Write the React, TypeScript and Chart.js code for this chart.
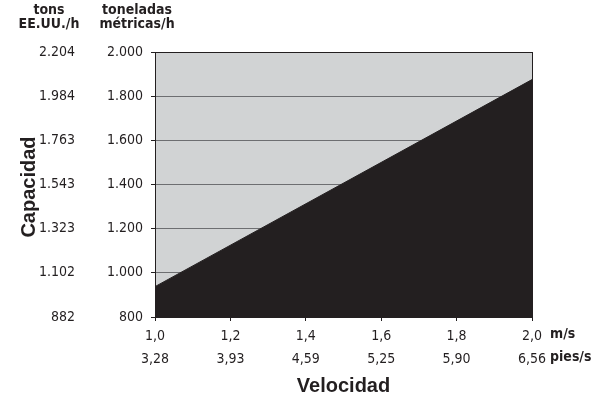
import React, { useEffect, useRef } from "react";
import { Chart, registerables } from "chart.js";

Chart.register(...registerables);

// Data
const speedMs = [1.0, 1.2, 1.4, 1.6, 1.8, 2.0];
const speedLabelsMs = ["1,0", "1,2", "1,4", "1,6", "1,8", "2,0"];
const speedLabelsFts = ["3,28", "3,93", "4,59", "5,25", "5,90", "6,56"];
const capMetricTicks = [800, 1000, 1200, 1400, 1600, 1800, 2000];
const capMetricLabels = ["800", "1.000", "1.200", "1.400", "1.600", "1.800", "2.000"];
const capUsLabels = ["882", "1.102", "1.323", "1.543", "1.763", "1.984", "2.204"];
const lineSpeed = [1.0, 2.0];
const lineCapacity = [937.5, 1875];

const DARK = "#231f20";
const GRAY = "#d1d3d4";
const GRID = "#6d6e71";
const NARROW = "'Liberation Sans Narrow', 'DejaVu Sans Condensed', 'Liberation Sans', sans-serif";
const WIDE = "'Liberation Sans', Arial, sans-serif";

const decorPlugin = {
  id: "decor",
  beforeDraw(chart: any) {
    const { ctx, chartArea } = chart;
    ctx.save();
    ctx.fillStyle = GRAY;
    ctx.fillRect(chartArea.left, chartArea.top, chartArea.right - chartArea.left, chartArea.bottom - chartArea.top);
    ctx.restore();
  },
  afterDraw(chart: any) {
    const { ctx, chartArea } = chart;
    const xs = chart.scales.x;
    ctx.save();
    ctx.fillStyle = DARK;
    ctx.textBaseline = "middle";
    // column headers
    ctx.font = `bold 14px ${NARROW}`;
    ctx.textAlign = "center";
    ctx.fillText("tons", 49, 10);
    ctx.fillText("EE.UU./h", 49, 24);
    ctx.fillText("toneladas", 137, 10);
    ctx.fillText("métricas/h", 137, 24);
    // units on x axis
    ctx.textAlign = "left";
    const xr = xs.getPixelForValue(speedMs[speedMs.length - 1]);
    ctx.fillText("m/s", xr + 18, 334);
    ctx.fillText("pies/s", xr + 18, 357);
    // axis titles
    ctx.font = `bold 20px ${WIDE}`;
    ctx.textAlign = "center";
    ctx.fillText("Velocidad", (chartArea.left + chartArea.right) / 2, 386);
    ctx.translate(29, 187);
    ctx.rotate(-Math.PI / 2);
    ctx.fillText("Capacidad", 0, 0);
    ctx.restore();
  },
};

export default function App() {
  const ref = useRef<HTMLCanvasElement | null>(null);
  useEffect(() => {
    document.body.style.margin = "0";
    const canvas = ref.current;
    if (!canvas) return;
    const chart = new Chart(canvas, {
      type: "line",
      data: {
        datasets: [
          {
            data: lineSpeed.map((x, i) => ({ x, y: lineCapacity[i] })),
            fill: "start",
            backgroundColor: DARK,
            borderColor: DARK,
            borderWidth: 1,
            pointRadius: 0,
          },
        ],
      },
      options: {
        responsive: false,
        animation: false,
        events: [],
        layout: { padding: { top: 52, right: 75, bottom: 0, left: 0 } },
        plugins: { legend: { display: false }, tooltip: { enabled: false } },
        scales: {
          x: {
            type: "linear",
            min: speedMs[0],
            max: speedMs[speedMs.length - 1],
            afterBuildTicks: (s: any) => {
              s.ticks = speedMs.map((v) => ({ value: v }));
            },
            afterFit: (s: any) => {
              s.height = 83;
            },
            ticks: {
              autoSkip: false,
              maxRotation: 0,
              padding: 3,
              color: DARK,
              font: { family: NARROW, size: 14, lineHeight: 1.7 },
              callback: (_v: any, i: number) => [speedLabelsMs[i], speedLabelsFts[i]],
            },
            grid: {
              color: (c: any) => (c.index === speedMs.length - 1 ? DARK : "transparent"),
              tickColor: DARK,
              tickLength: 4,
              lineWidth: 1,
            },
            border: { display: true, color: DARK },
          },
          y: {
            type: "linear",
            position: "left",
            weight: 0,
            min: capMetricTicks[0],
            max: capMetricTicks[capMetricTicks.length - 1],
            afterBuildTicks: (s: any) => {
              s.ticks = capMetricTicks.map((v) => ({ value: v }));
            },
            afterFit: (s: any) => {
              s.width = 75;
            },
            ticks: {
              padding: 8,
              color: DARK,
              font: { family: NARROW, size: 14 },
              callback: (_v: any, i: number) => capMetricLabels[i],
            },
            grid: {
              color: (c: any) => (c.index === capMetricTicks.length - 1 ? DARK : GRID),
              tickColor: DARK,
              tickLength: 4,
              lineWidth: 1,
            },
            border: { display: true, color: DARK },
          },
          y2: {
            type: "linear",
            position: "left",
            weight: 1,
            min: capMetricTicks[0],
            max: capMetricTicks[capMetricTicks.length - 1],
            afterBuildTicks: (s: any) => {
              s.ticks = capMetricTicks.map((v) => ({ value: v }));
            },
            afterFit: (s: any) => {
              s.width = 80;
            },
            ticks: {
              padding: 5,
              color: DARK,
              font: { family: NARROW, size: 14 },
              callback: (_v: any, i: number) => capUsLabels[i],
            },
            grid: { display: false, drawTicks: false },
            border: { display: false },
          },
        },
      },
      plugins: [decorPlugin],
    } as any);
    return () => chart.destroy();
  }, []);
  return <canvas ref={ref} width={607} height={400} style={{ display: "block" }} />;
}
